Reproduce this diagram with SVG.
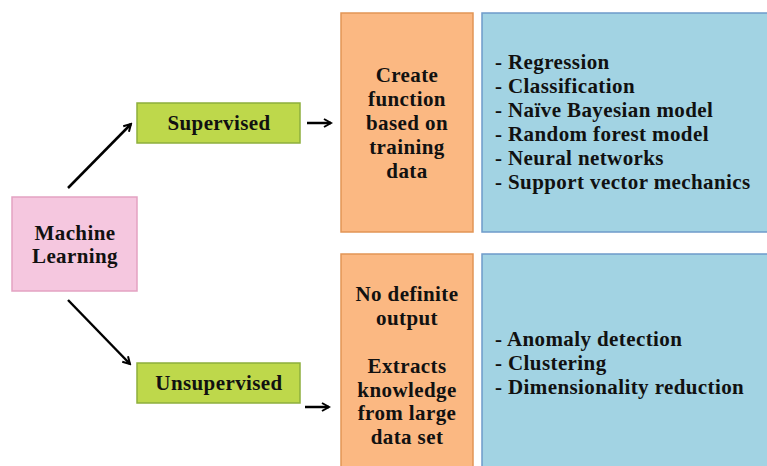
<svg xmlns="http://www.w3.org/2000/svg" width="767" height="466" viewBox="0 0 767 466">
<style>
text{font-family:"Liberation Serif","Times New Roman",serif;font-weight:bold;font-size:21px;letter-spacing:0.4px;fill:#111}
.c{text-anchor:middle}
.pink{fill:#F5C7DF;stroke:#E3A2C2;stroke-width:1.5}
.green{fill:#BED84B;stroke:#8DAF3C;stroke-width:1.5}
.orange{fill:#FBB882;stroke:#E29555;stroke-width:1.5}
.blue{fill:#A2D3E3;stroke:#6E9BCA;stroke-width:1.5}
.conn line{stroke:#000;stroke-width:2.5;marker-end:url(#ah)}
</style>
<defs>
<marker id="ah" viewBox="0 0 10 10" refX="8" refY="5" markerWidth="4" markerHeight="4" orient="auto" markerUnits="strokeWidth">
<path d="M1,1 L8,5 L1,9" fill="none" stroke="#000" stroke-width="2"/>
</marker>
</defs>
<rect width="767" height="466" fill="#fff"/>
<g id="machine-learning">
<rect class="pink" x="12" y="197" width="125" height="94"/>
<text class="c" x="75" y="240">Machine</text>
<text class="c" x="75" y="263">Learning</text>
</g>
<g id="supervised">
<rect class="green" x="137" y="103" width="163" height="40"/>
<text class="c" x="219" y="130">Supervised</text>
</g>
<g id="unsupervised">
<rect class="green" x="137" y="363" width="163" height="40"/>
<text class="c" x="219" y="390">Unsupervised</text>
</g>
<g id="supervised-desc">
<rect class="orange" x="341" y="13" width="132" height="219"/>
<text class="c" x="407" y="82">Create</text>
<text class="c" x="407" y="106">function</text>
<text class="c" x="407" y="130">based on</text>
<text class="c" x="407" y="154">training</text>
<text class="c" x="407" y="178">data</text>
</g>
<g id="unsupervised-desc">
<rect class="orange" x="341" y="254" width="132" height="230"/>
<text class="c" x="407" y="301">No definite</text>
<text class="c" x="407" y="325">output</text>
<text class="c" x="407" y="373">Extracts</text>
<text class="c" x="407" y="397">knowledge</text>
<text class="c" x="407" y="420">from large</text>
<text class="c" x="407" y="444">data set</text>
</g>
<g id="supervised-methods">
<rect class="blue" x="482" y="13" width="300" height="219"/>
<text x="495" y="69">- Regression</text>
<text x="495" y="93">- Classification</text>
<text x="495" y="117">- Naïve Bayesian model</text>
<text x="495" y="141">- Random forest model</text>
<text x="495" y="165">- Neural networks</text>
<text x="495" y="189">- Support vector mechanics</text>
</g>
<g id="unsupervised-methods">
<rect class="blue" x="482" y="254" width="300" height="230"/>
<text x="495" y="346">- Anomaly detection</text>
<text x="495" y="370">- Clustering</text>
<text x="495" y="394">- Dimensionality reduction</text>
</g>
<g class="conn" id="connectors">
<line x1="68" y1="188" x2="131" y2="124"/>
<line x1="68" y1="300" x2="130" y2="364"/>
<line x1="307" y1="123" x2="331" y2="123"/>
<line x1="305" y1="407" x2="329" y2="407"/>
</g>
</svg>
